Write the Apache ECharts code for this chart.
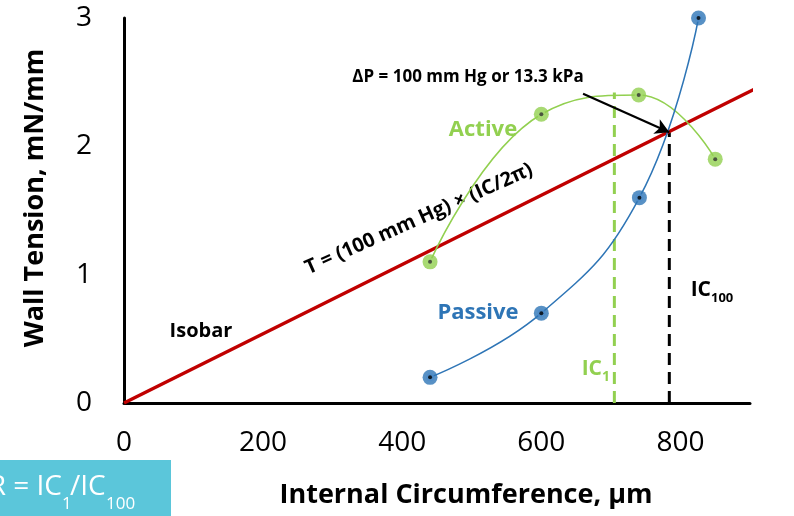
<!DOCTYPE html>
<html>
<head>
<meta charset="utf-8">
<script src="https://cdn.jsdelivr.net/npm/echarts@6/dist/echarts.min.js"></script>
<style>
  html, body { margin: 0; padding: 0; background: #fff; }
  #chart { width: 794px; height: 516px; }
</style>
</head>
<body>
<div id="chart"></div>
<script>
// Length–tension relation of a resistance artery segment
const FONT = '"Open Sans", "Noto Sans", sans-serif';

// Internal circumference (µm) and wall tension (mN/mm)
const passiveIC = [440, 600, 741, 826];
const passiveT  = [0.2, 0.7, 1.6, 3.0];
const activeIC  = [440, 600, 740, 850];
const activeT   = [1.1, 2.25, 2.4, 1.9];

// Isobar for 100 mm Hg (Laplace line)
const isobarIC = [0, 960];
const isobarT  = [0, 2.59];

// IC1 (peak active tension) and IC100 (isobar crossing)
const ic1 = 705, ic1T = 2.42;
const ic100 = 784, ic100T = 2.11;
// Start of the ΔP arrow
const arrowStart = [660, 2.41];

const xTicks = [0, 200, 400, 600, 800];
const yTicks = [0, 1, 2, 3];

const GREEN = '#92D050';
const BLUE = '#2E75B6';
const RED = '#C00000';

const zip = (xs, ys) => xs.map((x, i) => [x, ys[i]]);

const chart = echarts.init(document.getElementById('chart'));

function markerSeries(data, outer, ring, dot) {
  return [
    { type: 'scatter', data, symbol: 'circle', symbolSize: 15, itemStyle: { color: outer }, z: 5, silent: true },
    { type: 'scatter', data, symbol: 'circle', symbolSize: 8, itemStyle: { color: ring }, z: 6, silent: true },
    { type: 'scatter', data, symbol: 'circle', symbolSize: 4, itemStyle: { color: dot }, z: 7, silent: true }
  ];
}

const passive = zip(passiveIC, passiveT);
const active = zip(activeIC, activeT);

chart.setOption({
  animation: false,
  grid: { left: 124, right: 44, top: 18, bottom: 113 },
  xAxis: {
    type: 'value', min: xTicks[0], max: 900, interval: 200,
    axisLine: { lineStyle: { color: '#000', width: 3 } },
    axisTick: { show: false }, splitLine: { show: false },
    axisLabel: {
      showMaxLabel: false, margin: 26,
      fontFamily: FONT, fontSize: 28, color: '#000',
      formatter: v => xTicks.includes(v) ? String(v) : ''
    }
  },
  yAxis: {
    type: 'value', min: yTicks[0], max: yTicks[yTicks.length - 1], interval: 1,
    axisLine: { lineStyle: { color: '#000', width: 3 } },
    axisTick: { show: false }, splitLine: { show: false },
    axisLabel: { margin: 32, fontFamily: FONT, fontSize: 28, color: '#000' }
  },
  series: [
    {
      type: 'line', data: zip(isobarIC, isobarT), clip: false, symbol: 'none',
      lineStyle: { color: RED, width: 3.5 }, z: 3, silent: true
    },
    {
      type: 'line', data: [[ic1, 0], [ic1, ic1T]], symbol: 'none',
      lineStyle: { color: GREEN, width: 3, type: [12, 7] }, z: 2, silent: true
    },
    {
      type: 'line', data: [[ic100, 0], [ic100, ic100T]], symbol: 'none',
      lineStyle: { color: '#000', width: 3, type: [12, 7] }, z: 2, silent: true,
      markLine: {
        silent: true, symbol: ['none', 'arrow'], symbolSize: [12, 14],
        label: { show: false },
        lineStyle: { color: '#000', width: 2.2, type: 'solid' },
        data: [[{ coord: arrowStart }, { coord: [ic100, ic100T] }]]
      }
    },
    {
      type: 'line', data: active, smooth: 0.45, symbol: 'none',
      lineStyle: { color: GREEN, width: 1.5 }, z: 4, silent: true
    },
    {
      type: 'line', data: passive, smooth: 0.45, symbol: 'none',
      lineStyle: { color: BLUE, width: 1.5 }, z: 4, silent: true
    },
    ...markerSeries(active, GREEN, '#A9DC73', '#333'),
    ...markerSeries(passive, BLUE, '#4F8CC9', '#000')
  ],
  graphic: [
    // axis titles
    { type: 'text', x: 466, y: 495, style: { text: 'Internal Circumference, µm', font: `bold 27px ${FONT}`, fill: '#000', align: 'center', verticalAlign: 'middle' } },
    { type: 'text', x: 35, y: 198, rotation: Math.PI / 2, style: { text: 'Wall Tension, mN/mm', font: `bold 27px ${FONT}`, fill: '#000', align: 'center', verticalAlign: 'middle' } },
    // curve annotations
    { type: 'text', x: 483, y: 130, style: { text: 'Active', font: `bold 22px ${FONT}`, fill: GREEN, align: 'center', verticalAlign: 'middle' } },
    { type: 'text', x: 478, y: 313, style: { text: 'Passive', font: `bold 22px ${FONT}`, fill: BLUE, align: 'center', verticalAlign: 'middle' } },
    { type: 'text', x: 201, y: 331, style: { text: 'Isobar', font: `bold 20px ${FONT}`, fill: '#000', align: 'center', verticalAlign: 'middle' } },
    { type: 'text', x: 468, y: 77, style: { text: 'ΔP = 100 mm Hg or 13.3 kPa', font: `bold 17px ${FONT}`, fill: '#000', align: 'center', verticalAlign: 'middle' } },
    { type: 'text', x: 419, y: 219, rotation: 24 * Math.PI / 180, style: { text: 'T = (100 mm Hg) × (IC/2π)', font: `bold 20px ${FONT}`, fill: '#000', align: 'center', verticalAlign: 'middle' } },
    // IC100 label
    { type: 'text', x: 711, y: 290, style: { text: 'IC', font: `bold 21px ${FONT}`, fill: '#000', align: 'right', verticalAlign: 'middle' } },
    { type: 'text', x: 711, y: 298, style: { text: '100', font: `bold 13px ${FONT}`, fill: '#000', align: 'left', verticalAlign: 'middle' } },
    // IC1 label
    { type: 'text', x: 602, y: 369, style: { text: 'IC', font: `bold 21px ${FONT}`, fill: GREEN, align: 'right', verticalAlign: 'middle' } },
    { type: 'text', x: 602, y: 377, style: { text: '1', font: `bold 14px ${FONT}`, fill: GREEN, align: 'left', verticalAlign: 'middle' } },
    // ratio box
    { type: 'rect', shape: { x: 0, y: 460, width: 171, height: 56 }, style: { fill: '#5BC6DA' } },
    { type: 'text', x: 62, y: 487, style: { text: 'R = IC', font: `28px ${FONT}`, fill: '#fff', align: 'right', verticalAlign: 'middle' } },
    { type: 'text', x: 62, y: 504, style: { text: '1', font: `17px ${FONT}`, fill: '#fff', align: 'left', verticalAlign: 'middle' } },
    { type: 'text', x: 70, y: 487, style: { text: '/IC', font: `28px ${FONT}`, fill: '#fff', align: 'left', verticalAlign: 'middle' } },
    { type: 'text', x: 106, y: 504, style: { text: '100', font: `17px ${FONT}`, fill: '#fff', align: 'left', verticalAlign: 'middle' } }
  ]
});
</script>
</body>
</html>
